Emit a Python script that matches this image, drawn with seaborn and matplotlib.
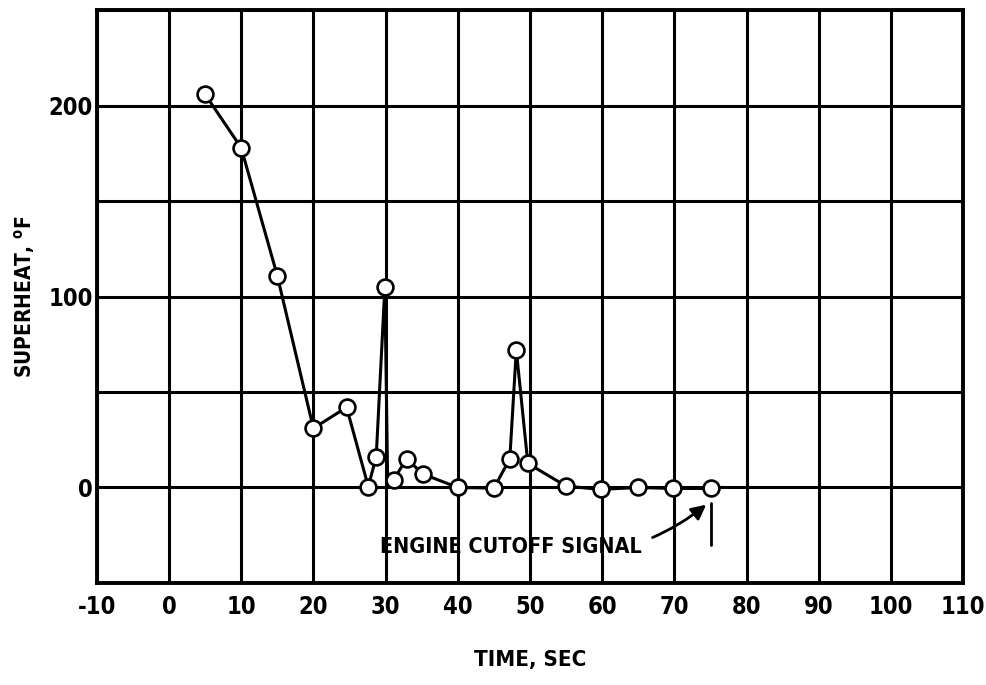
import numpy as np
import pandas as pd
import seaborn as sns
import matplotlib.pyplot as plt

# readings
time_s = [5, 10, 15, 20, 24.6, 27.6, 28.7, 29.9, 30.3, 31.1, 32.9, 35.2,
          40, 45, 47.2, 48.1, 49.7, 55, 59.8, 64.9, 69.8, 75]
superheat_f = [206, 178, 111, 31, 42, 0.5, 16, 105, 0, 4, 15, 7,
               0, -0.3, 15, 72, 12.6, 0.7, -1, 0, -0.5, -0.5]
# the dip right after the 30 s spike has no circle on it
marked = [True] * 8 + [False] + [True] * 13

x_ticks = list(range(-10, 111, 10))
y_ticks = [0, 100, 200]
cutoff_time = 75

df = pd.DataFrame({"time": time_s, "superheat": superheat_f, "marked": marked})

sns.set_style("white")
plt.rcParams["font.family"] = ["DejaVu Sans"]
plt.rcParams["font.stretch"] = "condensed"
plt.rcParams["font.weight"] = "bold"
plt.rcParams["text.color"] = "black"
plt.rcParams["xtick.color"] = "black"
plt.rcParams["ytick.color"] = "black"
plt.rcParams["axes.labelcolor"] = "black"
plt.rcParams["axes.unicode_minus"] = False

fig = plt.figure(figsize=(9.87, 6.85), dpi=100)
ax = fig.add_axes([0.098, 0.149, 0.878, 0.836])

sns.lineplot(data=df, x="time", y="superheat", sort=False, estimator=None,
             color="black", linewidth=2.2, ax=ax, zorder=3)
sns.scatterplot(data=df[df["marked"]], x="time", y="superheat", s=130,
                facecolor="white", edgecolor="black", linewidth=1.9,
                ax=ax, zorder=4)

grid_y = np.arange(-50, 251, 50)
ax.set_xlim(-10, 110)
ax.set_ylim(-50, 250)
ax.set_xticks(x_ticks)
ax.set_yticks(grid_y)
ax.set_yticklabels([str(v) if v in y_ticks else "" for v in grid_y])
ax.grid(True, color="black", linewidth=2.2)
ax.set_axisbelow(True)
for sp in ax.spines.values():
    sp.set_linewidth(2.8)
    sp.set_color("black")
ax.tick_params(axis="both", length=0, labelsize=17, pad=3)
ax.tick_params(axis="x", pad=9)

ax.set_xlabel("TIME, SEC", fontsize=16, fontweight="bold")
ax.set_ylabel("SUPERHEAT, $^{\\mathbf{o}}$F", fontsize=15, fontweight="bold")
ax.xaxis.set_label_coords(0.5, -0.117)
ax.yaxis.set_label_coords(-0.069, 0.50)

# cutoff marker and label
ax.plot([cutoff_time, cutoff_time], [-8, -30], color="black", linewidth=2.0)
ax.annotate("ENGINE CUTOFF SIGNAL", xy=(cutoff_time - 0.6, -9), xytext=(29.2, -31),
            fontsize=15.5, fontweight="bold", va="center", ha="left",
            arrowprops=dict(arrowstyle="-|>", color="black", lw=2.0,
                            mutation_scale=22, shrinkA=6, shrinkB=0,
                            connectionstyle="arc3,rad=0.25"))

plt.savefig("out.png", dpi=100)
plt.close()
